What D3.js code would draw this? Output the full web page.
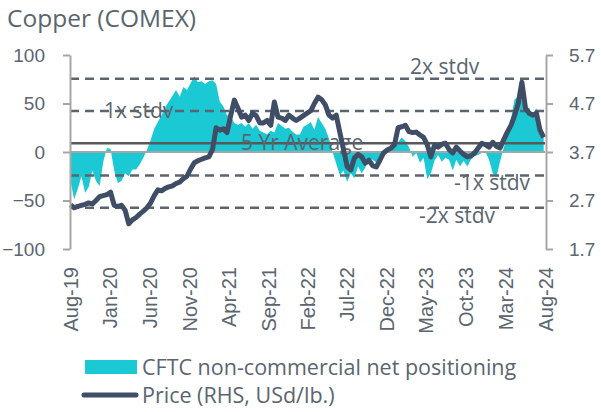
<!DOCTYPE html>
<html>
<head>
<meta charset="utf-8">
<script src="https://d3js.org/d3.v7.min.js"></script>
<style>
  body { margin: 0; background: #fff; }
  svg { font-family: "Open Sans", sans-serif; fill: #5a6570; }
  .axis path, .axis line { stroke: #a6a6a6; stroke-width: 2px; }
  .axis text { fill: #5a6570; font-size: 19px; }
  .band { stroke: #5a6570; stroke-width: 2.5px; stroke-dasharray: 9,6; }
  .band-label { font-size: 21px; fill: #5a6570; }
</style>
</head>
<body>
<div id="chart"></div>
<script>
// CFTC non-commercial net positioning, biweekly from early Aug 2019 (thousand contracts)
const startDate = "2019-08-03";
const stepDays = 14;
const positioning = [
  -30, -49, -38, -25, -42, -36, -19, -30, -35, -10,
  4, 3, -19, -32, -30, -22, -25, -18, -18, -13,
  -6, 2, 12, 24, 31, 38, 46, 52, 58, 64,
  57, 67, 64, 71, 78, 72, 73, 70, 73, 74,
  70, 52, 47, 38, 36, 30, 28, 30, 26, 30,
  24, 28, 22, 20, 18, 22, 20, 30, 27, 24,
  25, 21, 18, 18, 26, 28, 31, 23, 36, 30,
  24, 14, 0, -12, -24, -19, -31, -22, -27, -15,
  -22, -16, -6, -8, -11, -4, 0, 5, 4, 5,
  10, 15, 11, 5, -5, -1, -11, -6, -28, -22,
  -9, -3, -10, -6, -8, -19, -8, -15, -9, -15,
  -8, -4, -3, -1, 0, -8, -22, -26, -10, 4,
  16, 34, 54, 57, 53, 44, 46, 36, 45, 30,
  18
];
// COMEX copper price, USd/lb.
const price = [
  2.61, 2.55, 2.58, 2.60, 2.62, 2.65, 2.63, 2.70, 2.78, 2.80,
  2.82, 2.87, 2.60, 2.58, 2.60, 2.50, 2.22, 2.30, 2.35, 2.42,
  2.48, 2.55, 2.65, 2.80, 2.92, 2.90, 2.95, 2.98, 3.00, 3.05,
  3.08, 3.15, 3.20, 3.35, 3.48, 3.52, 3.55, 3.58, 3.60, 3.75,
  4.20, 4.15, 4.18, 4.10, 4.45, 4.77, 4.60, 4.42, 4.46, 4.35,
  4.50, 4.45, 4.30, 4.30, 4.35, 4.25, 4.73, 4.42, 4.40, 4.35,
  4.46, 4.40, 4.35, 4.40, 4.45, 4.50, 4.55, 4.70, 4.83, 4.78,
  4.67, 4.46, 4.40, 4.46, 4.10, 3.75, 3.40, 3.33, 3.58, 3.65,
  3.60, 3.47, 3.53, 3.42, 3.39, 3.53, 3.68, 3.74, 3.78, 3.85,
  4.20, 4.22, 4.25, 4.12, 4.10, 4.11, 4.05, 4.00, 3.85, 3.60,
  3.84, 3.80, 3.86, 3.88, 3.75, 3.68, 3.80, 3.72, 3.65, 3.60,
  3.62, 3.68, 3.78, 3.88, 3.85, 3.80, 3.90, 3.82, 3.78, 3.95,
  4.11, 4.25, 4.45, 4.70, 5.14, 4.60, 4.50, 4.46, 4.50, 4.15,
  4.00
];
const avg5y = 9;
const stdv = 33.3;
const bands = [
  { name: "2x stdv", k: 2 },
  { name: "1x stdv", k: 1 },
  { name: "-1x stdv", k: -1 },
  { name: "-2x stdv", k: -2 }
];
const tickLabels = ["Aug-19", "Jan-20", "Jun-20", "Nov-20", "Apr-21", "Sep-21", "Feb-22",
                    "Jul-22", "Dec-22", "May-23", "Oct-23", "Mar-24", "Aug-24"];
const leftTicks = [-100, -50, 0, 50, 100];
const rightTicks = [1.7, 2.7, 3.7, 4.7, 5.7];

const width = 601, height = 412;
const x0 = 70, x1 = 545, yTop = 55, yBot = 249;

const parseTick = d3.timeParse("%b-%y");
const fmtTick = d3.timeFormat("%b-%y");
const tickDates = tickLabels.map(parseTick);
const start = d3.timeParse("%Y-%m-%d")(startDate);
const series = positioning.map((v, i) => ({
  date: d3.timeDay.offset(start, i * stepDays),
  pos: v,
  price: price[i]
}));

const x = d3.scaleTime().domain([tickDates[0], tickDates[tickDates.length - 1]]).range([x0, x1]);
const yL = d3.scaleLinear().domain([-100, 100]).range([yBot, yTop]);
const yR = d3.scaleLinear().domain([1.7, 5.7]).range([yBot, yTop]);

const svg = d3.select("#chart").append("svg")
  .attr("width", width)
  .attr("height", height);

// title
svg.append("text")
  .attr("x", 7).attr("y", 27)
  .style("font-size", "24.5px")
  .style("fill", "#5a6570")
  .text("Copper (COMEX)");

// positioning area
svg.append("path")
  .datum(series)
  .attr("fill", "#1ac9d3")
  .attr("d", d3.area().x(d => x(d.date)).y0(yL(0)).y1(d => yL(d.pos)));

// zero line
svg.append("line")
  .attr("x1", x0).attr("x2", x1)
  .attr("y1", yL(0)).attr("y2", yL(0))
  .attr("stroke", "#a6a6a6").attr("stroke-width", 2);

// stdv bands
svg.append("g").selectAll("line")
  .data(bands)
  .enter().append("line")
  .attr("class", "band")
  .attr("x1", x0).attr("x2", x1)
  .attr("y1", d => yL(avg5y + d.k * stdv))
  .attr("y2", d => yL(avg5y + d.k * stdv));

// 5 yr average
svg.append("line")
  .attr("x1", x0).attr("x2", x1)
  .attr("y1", yL(avg5y)).attr("y2", yL(avg5y))
  .attr("stroke", "#595959").attr("stroke-width", 2.5);

// band labels
const labelPos = {
  "2x stdv": { x: 410, dy: -5 },
  "1x stdv": { x: 104, dy: 7 },
  "-1x stdv": { x: 454, dy: 14 },
  "-2x stdv": { x: 419, dy: 15 }
};
svg.append("g").selectAll("text")
  .data(bands)
  .enter().append("text")
  .attr("class", "band-label")
  .attr("x", d => labelPos[d.name].x)
  .attr("y", d => yL(avg5y + d.k * stdv) + labelPos[d.name].dy)
  .text(d => d.name);

svg.append("text")
  .attr("class", "band-label")
  .attr("x", 241)
  .attr("y", yL(avg5y) + 7)
  .text("5 Yr Average");

// price line
svg.append("path")
  .datum(series)
  .attr("fill", "none")
  .attr("stroke", "#3f4d66")
  .attr("stroke-width", 5)
  .attr("stroke-linejoin", "round")
  .attr("d", d3.line().x(d => x(d.date)).y(d => yR(d.price)));

// axes
svg.append("g")
  .attr("class", "axis")
  .attr("transform", `translate(${x0},0)`)
  .call(d3.axisLeft(yL).tickValues(leftTicks).tickSize(7).tickSizeOuter(0).tickPadding(18));

svg.append("g")
  .attr("class", "axis")
  .attr("transform", `translate(${x1 + 1},0)`)
  .call(d3.axisRight(yR).tickValues(rightTicks).tickFormat(d3.format(".1f")).tickSize(7).tickSizeOuter(0).tickPadding(16));

const gX = svg.append("g")
  .attr("class", "axis")
  .attr("transform", `translate(0,${yBot})`)
  .call(d3.axisBottom(x).tickValues(tickDates).tickFormat(fmtTick).tickSize(0));
gX.select(".domain").remove();
gX.selectAll("text")
  .attr("transform", "rotate(-90)")
  .attr("text-anchor", "end")
  .attr("x", -18)
  .attr("y", 0)
  .attr("dy", "0.35em")
  .style("font-size", "20px");

// legend
const legend = svg.append("g");
legend.append("rect")
  .attr("x", 85).attr("y", 360)
  .attr("width", 52).attr("height", 14)
  .attr("fill", "#1ac9d3");
legend.append("text")
  .attr("x", 142).attr("y", 375)
  .style("font-size", "21.5px")
  .text("CFTC non-commercial net positioning");
legend.append("line")
  .attr("x1", 84).attr("x2", 136)
  .attr("y1", 395).attr("y2", 395)
  .attr("stroke", "#3f4d66").attr("stroke-width", 5)
  .attr("stroke-linecap", "round");
legend.append("text")
  .attr("x", 142).attr("y", 403)
  .style("font-size", "21.5px")
  .text("Price (RHS, USd/lb.)");
</script>
</body>
</html>
